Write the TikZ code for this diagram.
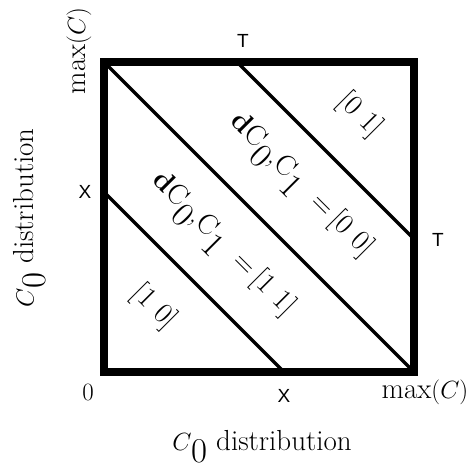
\documentclass[tikz,border=0pt]{standalone}
\usepackage{graphicx}
\usepackage{fontspec}
\newfontfamily\hv{Liberation Sans}
\newcommand\lowsub[1]{\raisebox{-0.42em}{\scalebox{1.2}{#1}}}
\begin{document}
\begin{tikzpicture}[x=1pt,y=-1pt,
  serif/.style={font=\fontsize{29}{32}\selectfont, inner sep=0pt},
  diag/.style={font=\fontsize{29}{32}\selectfont, inner sep=0pt, rotate=-45},
  sans/.style={font=\hv\fontsize{19}{22}\selectfont, inner sep=0pt},
  boxline/.style={line width=8pt, line join=miter},
  divline/.style={line width=3.5pt}]
\useasboundingbox (0,0) rectangle (472,470);
% corners
\coordinate (tl) at (104,62);
\coordinate (tr) at (414,62);
\coordinate (bl) at (104,372);
\coordinate (br) at (414,372);
\coordinate (tt) at (237,62);
\coordinate (tR) at (414,239);
\coordinate (xl) at (104,192);
\coordinate (xb) at (284,372);
\draw[divline] (tl) -- (br);
\draw[divline] (tt) -- (tR);
\draw[divline] (xl) -- (xb);
\draw[boxline] (tl) rectangle (br);
% tick labels
\node[sans] (lT) at (243,41) {T};
\node[sans] (rT) at (438,240) {T};
\node[sans] (lX) at (85,192) {X};
\node[sans] (bX) at (284,396) {X};
\node[serif] (zero) at (88,392) {$0$};
\node[serif] (bmax) at (425,392) {$\max(C)$};
\node[serif, rotate=90] (lmax) at (79,51) {$\max(C)$};
% axis labels
\node[serif] (xlab) at (262,447) {$C$\lowsub{0} distribution};
\node[serif, rotate=90] (ylab) at (30,218) {$C$\lowsub{0} distribution};
% region labels
\node[diag] (d00) at (300,187) {\textbf{d}C\lowsub{0},C\lowsub{1}\ \ =\,[0\,\,0]};
\node[diag] (d11) at (222,246) {\textbf{d}C\lowsub{0},C\lowsub{1}\ \ =\,[1\,\,1]};
\node[diag] (d01) at (360,115) {[0\,\,1]};
\node[diag] (d10) at (154,307) {[1\,\,0]};
\end{tikzpicture}
\end{document}
